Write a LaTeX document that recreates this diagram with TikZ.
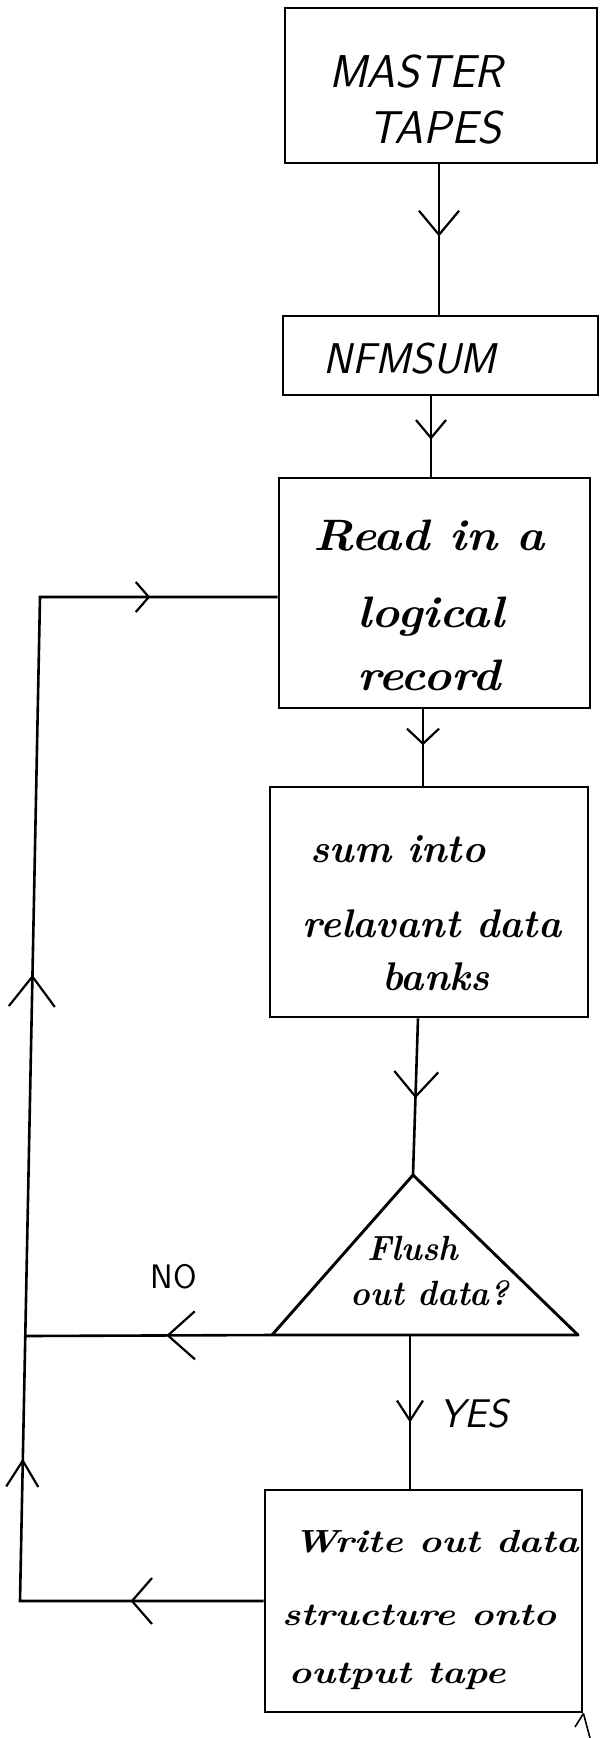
\documentclass[tikz,border=0pt]{standalone}
\usepackage{graphicx}
\usetikzlibrary{arrows.meta,decorations.markings,calc}

% horizontally widened handwriting
\newcommand{\wide}[2]{\scalebox{#1}[1]{#2}}
% open barb drawn at a marking
\newcommand{\barbtip}[2]{\arrow{Straight Barb[length=#1,width=#2,line width=2.2pt]}}

\tikzset{
  x=1pt, y=-1pt,
  box/.style 2 args={draw, line width=2.9pt, inner sep=0pt,
    minimum width=#1, minimum height=#2},
  conn/.style={line width=2.6pt},
  barb/.style n args={3}{postaction={decorate}, decoration={markings,
    mark=at position #1 with {\barbtip{#2}{#3}}}},
  caps/.style={font=\fontsize{#1}{#1}\selectfont\sffamily\slshape,
    inner sep=0pt, anchor=base},
  capsup/.style={font=\fontsize{#1}{#1}\selectfont\sffamily,
    inner sep=0pt, anchor=base},
  hand/.style={font=\fontsize{#1}{#1}\selectfont\bfseries\itshape,
    inner sep=0pt, anchor=base},
}

\begin{document}
\begin{tikzpicture}
\useasboundingbox (0,0) rectangle (600,1738);

% process boxes
\node[box={312pt}{155pt}] (master) at (441,85.5) {};
\node[box={315pt}{79pt}]  (nfm)    at (440.5,355.5) {};
\node[box={311pt}{230pt}] (read)   at (434.5,593) {};
\node[box={318pt}{230pt}] (sum)    at (429,902) {};
\node[box={317pt}{222pt}] (write)  at (423.5,1601) {};

% decision triangle
\coordinate (apex) at (413,1175);
\coordinate (tl) at (272,1335);
\coordinate (tr) at (578,1335);
\draw[line width=2.9pt, line join=round] (apex) -- (tr) -- (tl) -- cycle;

% box texts
\node[caps=46] (masterA) at (416,87) {MASTER};
\node[caps=46] (masterB) at (435,143) {TAPES};
\node[caps=43] (nfmA) at (410,373) {NFMSUM};

\node[hand=44] (readA) at (429,550) {\wide{1.08}{Read in a}};
\node[hand=44] (readB) at (431,627) {\wide{1.08}{logical}};
\node[hand=44] (readC) at (429,690) {\wide{1.08}{record}};

\node[hand=40] (sumA) at (398,862) {\wide{0.98}{sum into}};
\node[hand=40] (sumB) at (432,937) {\wide{0.98}{relavant data}};
\node[hand=40] (sumC) at (436,990) {\wide{0.98}{banks}};

\node[hand=35] (flushA) at (413,1260) {\wide{0.95}{Flush}};
\node[hand=35] (flushB) at (430,1305) {\wide{0.95}{out data?}};

\node[hand=32] (writeA) at (436,1552) {\wide{1.2}{Write out data}};
\node[hand=32] (writeB) at (419,1625) {\wide{1.2}{structure onto}};
\node[hand=32] (writeC) at (397,1683) {\wide{1.2}{output tape}};

% branch labels
\node[caps=40] (yes) at (474,1427) {YES};
\node[capsup=34] (no) at (174,1288) {NO};

% main flow
\draw[conn, barb={0.48}{24pt}{40pt}]
  ([xshift=-2pt]master.south) -- ([xshift=-2pt]master.south |- nfm.north);
\draw[conn, barb={0.54}{18pt}{30pt}]
  ([xshift=-9.5pt]nfm.south) -- ([xshift=-9.5pt]nfm.south |- read.north);
\draw[conn, barb={0.47}{15pt}{32pt}]
  ([xshift=-11.5pt]read.south) -- ([xshift=-11.5pt]read.south |- sum.north);
\draw[conn, barb={0.51}{25pt}{44pt}]
  ([xshift=-11pt]sum.south) -- (apex);

\coordinate (yes0) at ($(tl)!0.451!(tr)$);
\draw[conn, barb={0.57}{20pt}{26pt}] (yes0) -- (yes0 |- write.north);

% return loop
\coordinate (lb) at (20,1601);
\coordinate (lt) at (40,597);
\coordinate (nojoin) at (26,1336);
\draw[conn, barb={0.43}{27pt}{48pt}] (tl) -- (nojoin);
\draw[conn, postaction={decorate}, decoration={markings,
    mark=at position 133pt with {\barbtip{20pt}{46pt}},
    mark=at position 386pt with {\barbtip{26pt}{32pt}},
    mark=at position 870pt with {\barbtip{30pt}{46pt}},
    mark=at position 1358pt with {\barbtip{13pt}{30pt}}}]
  (write.west) -- (lb) -- (lt) -- (lt -| read.west);

% stub leaving the last box
\coordinate (stubA) at (590,1738);
\coordinate (stubB) at (575,1727);
\draw[line width=1.6pt] (write.south east) -- (stubA);
\draw[line width=1.6pt] (write.south east) -- (stubB);
\end{tikzpicture}
\end{document}
